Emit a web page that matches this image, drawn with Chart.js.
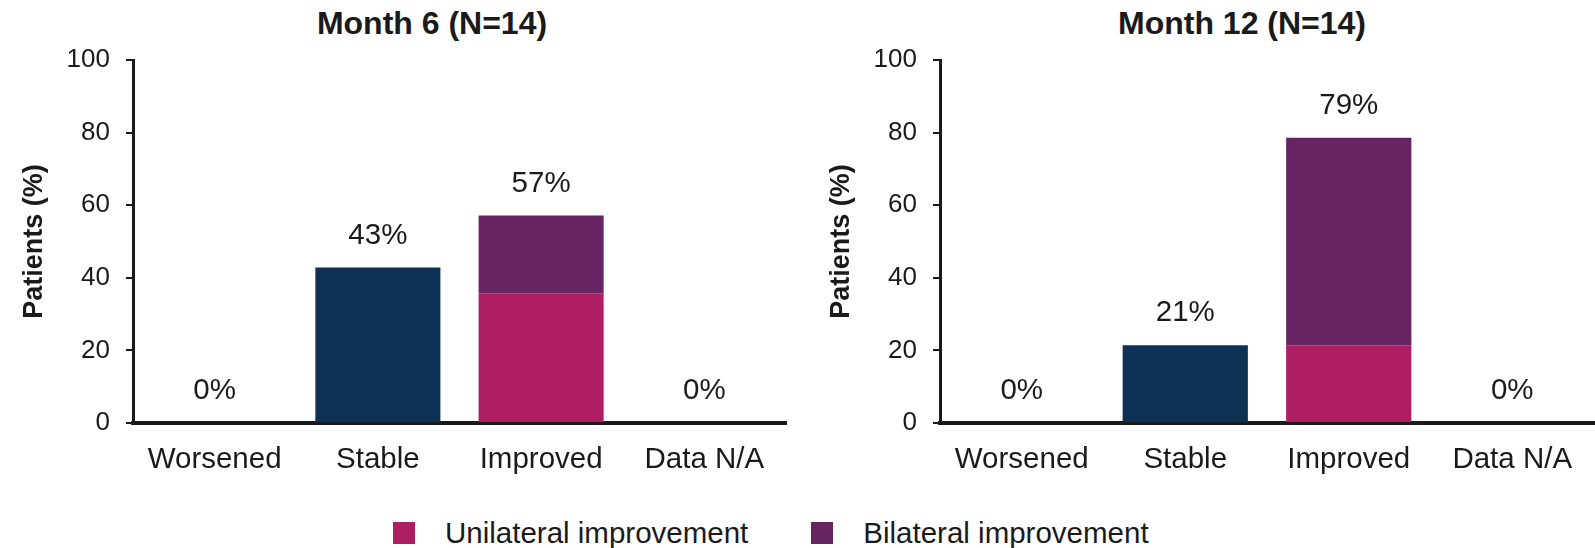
<!DOCTYPE html>
<html>
<head>
<meta charset="utf-8">
<title>Visual outcome by month</title>
<script src="https://cdn.jsdelivr.net/npm/chart.js@4.4.1/dist/chart.umd.min.js"></script>
<style>
  body { margin: 0; background: #fff; font-family: "Liberation Sans", Arial, sans-serif; color: #1a1a1a; }
  #page { position: relative; width: 1595px; height: 548px; overflow: hidden; }
  .panel { position: absolute; top: 0; }
  .chart-title { position: absolute; top: 4px; width: 400px; text-align: center; font-weight: bold; font-size: 32px; line-height: 38px; }
  #legend { position: absolute; left: 393px; top: 516px; display: flex; align-items: center; font-size: 29.5px; line-height: 34px; }
  #legend .item { display: flex; align-items: center; margin-right: 63px; }
  #legend .swatch { width: 22px; height: 22px; margin-right: 30px; }
</style>
</head>
<body>
<div id="page">
  <div class="chart-title" style="left: 232px;">Month 6 (N=14)</div>
  <div class="chart-title" style="left: 1042px;">Month 12 (N=14)</div>
  <canvas id="month6Chart" class="panel" style="left: 0px;" width="797" height="480"></canvas>
  <canvas id="month12Chart" class="panel" style="left: 807px;" width="788" height="480"></canvas>
  <div id="legend"></div>
</div>

<script>
// categories on the x axis
const categories = ['Worsened', 'Stable', 'Improved', 'Data N/A'];

// percent of patients (N=14) at each visit
const month6Stable = [0, 42.86, 0, 0];
const month6Unilateral = [0, 0, 35.71, 0];
const month6Bilateral = [0, 0, 21.43, 0];

const month12Stable = [0, 21.43, 0, 0];
const month12Unilateral = [0, 0, 21.43, 0];
const month12Bilateral = [0, 0, 57.14, 0];

const yTicks = [0, 20, 40, 60, 80, 100];

const stableColor = '#0d3254';
const unilateralColor = '#ad1f62';
const bilateralColor = '#662562';
const inkColor = '#1a1a1a';
const fontFamily = '"Liberation Sans", Arial, sans-serif';

// writes the stack total (rounded) above every column
const totalLabels = {
  id: 'totalLabels',
  afterDatasetsDraw(chart) {
    const ctx = chart.ctx;
    const xScale = chart.scales.x;
    const yScale = chart.scales.y;
    ctx.save();
    ctx.font = '29.5px ' + fontFamily;
    ctx.fillStyle = inkColor;
    ctx.textAlign = 'center';
    ctx.textBaseline = 'middle';
    chart.data.labels.forEach((label, i) => {
      const total = chart.data.datasets.reduce((sum, ds) => sum + ds.data[i], 0);
      const x = xScale.getPixelForValue(i);
      const y = yScale.getPixelForValue(total) - 32;
      ctx.fillText(Math.round(total) + '%', x, y);
    });
    ctx.restore();
  }
};

function buildChart(canvasId, stable, unilateral, bilateral, rightPad) {
  const ctx = document.getElementById(canvasId).getContext('2d');
  return new Chart(ctx, {
    type: 'bar',
    data: {
      labels: categories,
      datasets: [
        { label: 'Stable', data: stable, backgroundColor: stableColor },
        { label: 'Unilateral improvement', data: unilateral, backgroundColor: unilateralColor },
        { label: 'Bilateral improvement', data: bilateral, backgroundColor: bilateralColor }
      ]
    },
    options: {
      responsive: false,
      animation: false,
      layout: { padding: { top: 60, right: rightPad, bottom: 5, left: 0 } },
      datasets: { bar: { categoryPercentage: 0.766, barPercentage: 1 } },
      plugins: {
        legend: { display: false },
        tooltip: { enabled: false },
        title: { display: false }
      },
      scales: {
        x: {
          stacked: true,
          grid: { display: false, drawTicks: false },
          border: { display: true, color: inkColor, width: 4 },
          ticks: { color: inkColor, padding: 19, font: { family: fontFamily, size: 29.5 } },
          afterFit(scale) { scale.height = 52; }
        },
        y: {
          stacked: true,
          min: 0,
          max: 100,
          afterBuildTicks(scale) { scale.ticks = yTicks.map(v => ({ value: v })); },
          grid: { drawOnChartArea: false, drawTicks: true, tickLength: 7, color: inkColor, lineWidth: 2 },
          border: { display: true, color: inkColor, width: 3 },
          ticks: { color: inkColor, padding: 16, font: { family: fontFamily, size: 26 } },
          title: {
            display: true,
            text: 'Patients (%)',
            color: inkColor,
            padding: { top: 18, bottom: 0 },
            font: { family: fontFamily, size: 27, weight: 'bold' }
          },
          afterFit(scale) { scale.width = 133; }
        }
      }
    },
    plugins: [totalLabels]
  });
}

buildChart('month6Chart', month6Stable, month6Unilateral, month6Bilateral, 11);
buildChart('month12Chart', month12Stable, month12Unilateral, month12Bilateral, 1);

// shared legend for the two improvement series
const legendItems = [
  { text: 'Unilateral improvement', color: unilateralColor },
  { text: 'Bilateral improvement', color: bilateralColor }
];
const legend = document.getElementById('legend');
legendItems.forEach(item => {
  const el = document.createElement('div');
  el.className = 'item';
  el.innerHTML = `<span class="swatch" style="background:${item.color}"></span><span>${item.text}</span>`;
  legend.appendChild(el);
});
</script>
</body>
</html>
